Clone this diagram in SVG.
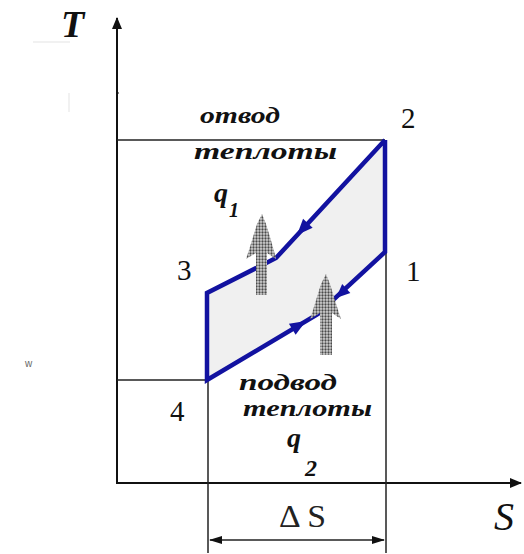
<svg xmlns="http://www.w3.org/2000/svg" width="524" height="554" viewBox="0 0 524 554">
<defs>
<style>
.ax{stroke:#111;stroke-width:2;fill:none}
.thin{stroke:#222;stroke-width:1.5;fill:none}
.cyc{stroke:#1212a0;stroke-width:4.5;fill:none;stroke-linejoin:miter}
.ah{fill:#1212a0}
.lbl{font-family:'Liberation Serif','DejaVu Serif',serif;font-style:italic;font-weight:bold;fill:#111}
.num{font-family:'Liberation Serif','DejaVu Serif',serif;font-size:29px;fill:#111}
</style>
<pattern id="dots" width="3" height="3" patternUnits="userSpaceOnUse">
<rect width="3" height="3" fill="#d4d4d4"/>
<circle cx="1.5" cy="1.5" r="1.15" fill="#4a4a4a"/>
</pattern>
<marker id="axh" markerWidth="12" markerHeight="10" refX="11" refY="5" orient="auto" markerUnits="userSpaceOnUse">
<path d="M0,0 L12,5 L0,10 Z" fill="#111"/>
</marker>
</defs>
<rect width="524" height="554" fill="#fff"/>

<!-- faint artifacts -->
<line x1="33" y1="42" x2="70" y2="42" stroke="#ececec" stroke-width="1.5"/>
<line x1="69" y1="93" x2="69" y2="112" stroke="#ececec" stroke-width="1.5"/>
<text x="25" y="367" font-family="'Liberation Sans','DejaVu Sans',sans-serif" font-size="10" fill="#666">w</text>

<!-- cycle fill -->
<g id="area">
<polygon points="385,140 276,258 207,293 207,380 318,314 385,252" fill="#f0f0f0"/>
</g>

<g id="connectors">
<line class="ax" x1="117" y1="484" x2="117" y2="18" marker-end="url(#axh)"/>
<line class="ax" x1="116" y1="483" x2="521" y2="483" marker-end="url(#axh)"/>
<line x1="117" y1="93" x2="119" y2="93" stroke="#111" stroke-width="1"/>
<line class="thin" x1="117" y1="140" x2="385" y2="140"/>
<line class="thin" x1="117" y1="380" x2="208" y2="380"/>
<line class="thin" x1="208" y1="380" x2="208" y2="553"/>
<line class="thin" x1="386" y1="252" x2="386" y2="553"/>
<line class="thin" x1="210" y1="540" x2="384" y2="540"/>
<polygon points="209,540 222,536 222,544" fill="#111"/>
<polygon points="385,540 372,536 372,544" fill="#111"/>
<polyline class="cyc" points="385,140 276,258 207,293 207,380 318,314 385,252 385,140"/>
<polygon class="ah" points="0,0 -16,-6.5 -16,6.5" transform="translate(297,235) rotate(132.7)"/>
<polygon class="ah" points="0,0 -16,-6.5 -16,6.5" transform="translate(306,321) rotate(-31)"/>
<polygon class="ah" points="0,0 -14,-6 -14,6" transform="translate(336,298) rotate(137.2)"/>
</g>

<g id="q1-arrow">
<polygon points="262,214 266,224 270,237 274,251 276,259 267,253 267,295 256,295 256,253 246,259 249,250 253,237 257,224" fill="url(#dots)"/>
</g>
<g id="q2-arrow">
<polygon points="326,274 330,284 334,297 338,310 341,319 332,313 332,355 320,355 320,313 310,319 313,310 317,297 321,284" fill="url(#dots)"/>
</g>

<g id="axis-T"><text class="lbl" x="61" y="37" font-size="38">T</text></g>
<g id="axis-S"><text x="494" y="530" font-family="'Liberation Serif','DejaVu Serif',serif" font-style="italic" font-size="40" fill="#111">S</text></g>

<g id="p1"><text class="num" x="406" y="281">1</text></g>
<g id="p2"><text class="num" x="401" y="128">2</text></g>
<g id="p3"><text class="num" x="177" y="280">3</text></g>
<g id="p4"><text class="num" x="170" y="421">4</text></g>

<g id="heat-out">
<text class="lbl" x="200" y="123" font-size="23" textLength="80" lengthAdjust="spacingAndGlyphs">отвод</text>
<text class="lbl" x="194" y="159" font-size="24" textLength="143" lengthAdjust="spacingAndGlyphs">теплоты</text>
<text class="lbl" x="214" y="202" font-size="28">q</text>
<text class="lbl" x="229" y="217" font-size="20">1</text>
</g>

<g id="heat-in">
<text class="lbl" x="239" y="390" font-size="23" textLength="98" lengthAdjust="spacingAndGlyphs">подвод</text>
<text class="lbl" x="243" y="416" font-size="23" textLength="129" lengthAdjust="spacingAndGlyphs">теплоты</text>
<text class="lbl" x="287" y="447" font-size="28">q</text>
<text class="lbl" x="305" y="476" font-size="24">2</text>
</g>

<g id="delta-s"><text x="279" y="527" font-family="'Liberation Serif','DejaVu Serif',serif" font-size="31" fill="#222" textLength="47" lengthAdjust="spacingAndGlyphs">Δ S</text></g>
</svg>
